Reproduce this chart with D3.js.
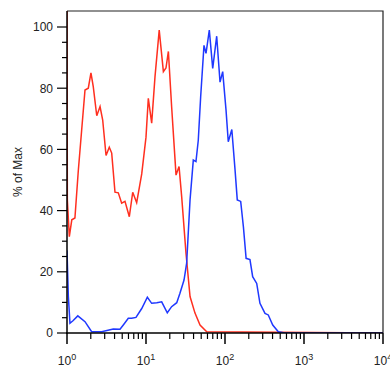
<!DOCTYPE html>
<html lang="en">
<head>
    <meta charset="UTF-8">
    <title>% of Max histogram</title>
    <script src="https://d3js.org/d3.v7.min.js"></script>
    <style>
        body { margin: 0; background: #fff; font-family: Arial, "Liberation Sans", sans-serif; }
        .tick-label { font-size: 12px; fill: #222; }
    </style>
</head>
<body>
    <div id="chart"></div>
    <script>
        // Red histogram: channel value, % of max
        const redX = [1, 1.01, 1.07, 1.15, 1.26, 1.39, 1.53, 1.69, 1.86, 2.01, 2.15, 2.38, 2.62, 2.83, 3.12, 3.43, 3.68,
            4.05, 4.46, 4.92, 5.42, 6.15, 6.79, 7.62, 8.83, 10.0, 10.7, 11.8, 13.0, 14.7, 16.6, 17.9, 19.2, 21.1,
            24.0, 26.2, 28.3, 32.1, 36.1, 41.7, 48.3, 58.7, 10000];
        const redY = [110, 43.5, 31.5, 37, 37.6, 53, 66, 79.4, 80, 85, 80.5, 71, 74, 69.6, 58, 60.7, 58.8,
            46, 45.8, 42.4, 43, 38, 46, 42.6, 52, 64, 76.7, 68.6, 83.8, 99, 85.4, 86.6, 92, 74,
            51.6, 54.4, 44.5, 26, 11.9, 6.5, 2.6, 0.4, 0];

        // Blue histogram
        const blueX = [1, 1.04, 1.09, 1.19, 1.37, 1.69, 2.05, 2.75, 3.85, 4.69, 5.16, 5.97, 6.59, 7.47, 8.83, 10.4,
            11.8, 13.7, 15.8, 18.6, 21.1, 24.5, 26.9, 30.3, 32.7, 36.1, 39.7, 42.9, 45.9, 49.2, 54.2, 57.5, 63.3,
            69.9, 78.5, 86.5, 93.5, 103, 110, 122, 134, 143, 158, 171, 185, 207, 224, 252, 277, 321, 353, 402,
            473, 575, 10000];
        const blueY = [27, 12, 3.2, 4, 5.6, 3.7, 0.4, 0.4, 1.3, 1.2, 2.6, 4.8, 4.8, 5.1, 8, 11.7,
            9.7, 9.9, 10.2, 6.6, 8.6, 9.9, 13, 17.3, 22.8, 43.5, 56.5, 56, 63, 77.2, 94, 91.4, 99,
            86.5, 97, 82, 85.4, 72.9, 62.5, 66.5, 53.3, 43.5, 43, 34.7, 24.4, 24, 18.4, 16.2, 9.7, 6.4, 5.9, 2.6,
            0.4, 0, 0];

        const yTicks = [0, 20, 40, 60, 80, 100];
        const xDecades = [0, 1, 2, 3, 4];

        const W = 390, H = 371;
        const m = { left: 67, right: 383, top: 11, bottom: 333 };

        const x = d3.scaleLog().domain([1, 10000]).range([m.left, m.right]);
        const y = d3.scaleLinear().domain([0, 100]).range([m.bottom, 27]);

        const svg = d3.select("#chart").append("svg")
            .attr("width", W)
            .attr("height", H);

        svg.append("defs").append("clipPath").attr("id", "plot")
            .append("rect")
            .attr("x", m.left).attr("y", m.top)
            .attr("width", m.right - m.left).attr("height", m.bottom - m.top);

        // frame (top & right)
        svg.append("path")
            .attr("d", `M${m.left},${m.top}H${m.right}V${m.bottom}`)
            .attr("fill", "none")
            .attr("stroke", "#222")
            .attr("stroke-width", 1.2);

        // curves
        const line = d3.line().x(d => x(d[0])).y(d => y(d[1]));
        const plot = svg.append("g").attr("clip-path", "url(#plot)");
        plot.append("path")
            .datum(d3.zip(redX, redY))
            .attr("d", line)
            .attr("fill", "none")
            .attr("stroke", "#ff2f1f")
            .attr("stroke-width", 1.5);
        plot.append("path")
            .datum(d3.zip(blueX, blueY))
            .attr("d", line)
            .attr("fill", "none")
            .attr("stroke", "#1f38ff")
            .attr("stroke-width", 1.5);

        // y axis
        const minorY = d3.range(0, 101, 5);
        const yAxis = svg.append("g");
        yAxis.append("line")
            .attr("x1", m.left).attr("x2", m.left)
            .attr("y1", m.top).attr("y2", m.bottom + 1)
            .attr("stroke", "#000").attr("stroke-width", 1.5);
        yAxis.selectAll(".ytick")
            .data(minorY)
            .enter().append("line")
            .attr("x1", d => yTicks.includes(d) ? m.left - 10 : m.left - 5)
            .attr("x2", m.left)
            .attr("y1", d => y(d)).attr("y2", d => y(d))
            .attr("stroke", "#000").attr("stroke-width", 1.2);
        yAxis.selectAll(".ylab")
            .data(yTicks)
            .enter().append("text")
            .attr("class", "tick-label")
            .attr("x", m.left - 14)
            .attr("y", d => y(d))
            .attr("dy", "0.36em")
            .attr("text-anchor", "end")
            .text(d => d);

        svg.append("text")
            .attr("class", "tick-label")
            .attr("transform", `translate(22,172) rotate(-90)`)
            .attr("text-anchor", "middle")
            .text("% of Max");

        // x axis
        const minorX = [];
        xDecades.slice(0, -1).forEach(d => {
            for (let k = 2; k <= 9; k++) minorX.push(k * Math.pow(10, d));
        });
        const xAxis = svg.append("g");
        xAxis.append("line")
            .attr("x1", m.left - 1).attr("x2", m.right)
            .attr("y1", m.bottom).attr("y2", m.bottom)
            .attr("stroke", "#000").attr("stroke-width", 1.5);
        xAxis.selectAll(".xminor")
            .data(minorX)
            .enter().append("line")
            .attr("x1", d => x(d)).attr("x2", d => x(d))
            .attr("y1", m.bottom).attr("y2", m.bottom + 6)
            .attr("stroke", "#000").attr("stroke-width", 1.2);
        xAxis.selectAll(".xmajor")
            .data(xDecades)
            .enter().append("line")
            .attr("x1", d => x(Math.pow(10, d))).attr("x2", d => x(Math.pow(10, d)))
            .attr("y1", m.bottom).attr("y2", m.bottom + 11)
            .attr("stroke", "#000").attr("stroke-width", 1.5);
        const xl = xAxis.selectAll(".xlab")
            .data(xDecades)
            .enter().append("text")
            .attr("class", "tick-label")
            .attr("x", d => x(Math.pow(10, d)))
            .attr("y", 365)
            .attr("text-anchor", "middle");
        xl.append("tspan").text("10");
        xl.append("tspan")
            .attr("dy", -5)
            .attr("font-size", 9)
            .text(d => d);
    </script>
</body>
</html>
